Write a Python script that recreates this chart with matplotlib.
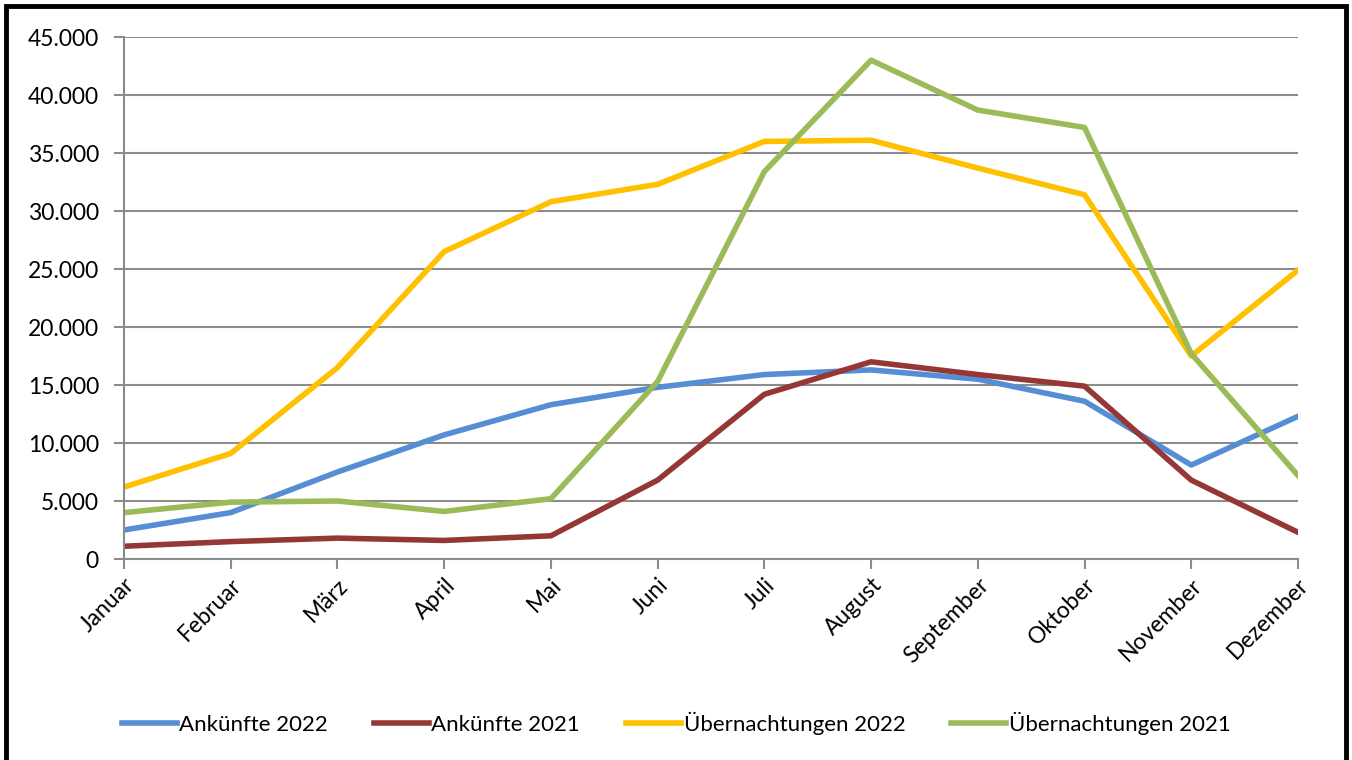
import matplotlib.pyplot as plt
from matplotlib.ticker import FuncFormatter
from matplotlib.patches import Rectangle

plt.rcParams['font.family'] = ['Lato', 'DejaVu Sans']

# Daten
monate = ['Januar', 'Februar', 'März', 'April', 'Mai', 'Juni', 'Juli',
          'August', 'September', 'Oktober', 'November', 'Dezember']
ankuenfte_2022 = [2500, 4000, 7500, 10700, 13300, 14800, 15900, 16300, 15500, 13600, 8100, 12300]
ankuenfte_2021 = [1100, 1500, 1800, 1600, 2000, 6800, 14200, 17000, 15900, 14900, 6800, 2300]
uebern_2022 = [6200, 9100, 16500, 26500, 30800, 32300, 36000, 36100, 33700, 31400, 17500, 24900]
uebern_2021 = [4000, 4900, 5000, 4100, 5200, 15300, 33400, 43000, 38700, 37200, 17700, 7200]

fig = plt.figure(figsize=(13.52, 7.6), dpi=100)
ax = fig.add_axes([124/1352, 1-559/760, (1298-124)/1352, (559-37)/760])

x = range(len(monate))
lw = 4
ax.plot(x, ankuenfte_2022, color='#558ED5', lw=lw, label='Ankünfte 2022')
ax.plot(x, ankuenfte_2021, color='#953735', lw=lw, label='Ankünfte 2021')
ax.plot(x, uebern_2022, color='#FFC000', lw=lw, label='Übernachtungen 2022')
ax.plot(x, uebern_2021, color='#9BBB59', lw=lw, label='Übernachtungen 2021')

ax.set_xlim(0, 11)
ax.set_ylim(0, 45000)
ax.set_yticks(range(0, 45001, 5000))
ax.yaxis.set_major_formatter(FuncFormatter(lambda v, p: f'{int(v):,}'.replace(',', '.')))
ax.set_xticks(list(x))
ax.set_xticklabels(monate, rotation=45, ha='right', rotation_mode='anchor')

ax.grid(axis='y', color='#8c8c8c', lw=1.5)
ax.set_axisbelow(True)
for s in ['top', 'right']:
    ax.spines[s].set_visible(False)
for s in ['left', 'bottom']:
    ax.spines[s].set_color('#8c8c8c')
    ax.spines[s].set_linewidth(1.5)
ax.tick_params(axis='both', colors='#8c8c8c', width=1.5, length=7, labelsize=16.5, labelcolor='black')
ax.tick_params(axis='y', pad=11)
ax.tick_params(axis='x', pad=4)

fig.legend(loc='center', bbox_to_anchor=(0.5, 1-723/760), ncol=4, frameon=False,
           fontsize=16, handlelength=2.5, handletextpad=0.1, columnspacing=2.05)

# Rahmen um das Diagramm
fig.patches.append(Rectangle((6/1352, -0.05), (1346-6)/1352, 1.05-6/760,
                             transform=fig.transFigure, fill=False, ec='black', lw=3.5))

fig.savefig('out.png', dpi=100)
